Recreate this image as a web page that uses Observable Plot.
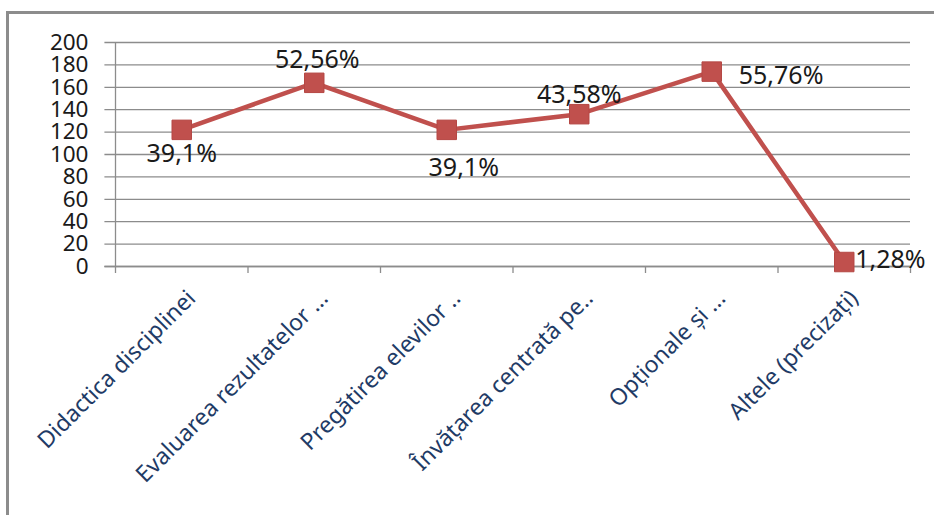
<!DOCTYPE html>
<html>
<head>
<meta charset="utf-8">
<script src="https://cdn.jsdelivr.net/npm/d3@7"></script>
<script src="https://cdn.jsdelivr.net/npm/@observablehq/plot@0.6"></script>
<style>
  html, body { margin: 0; padding: 0; background: #fff; overflow: hidden; }
  #wrap { position: relative; width: 934px; height: 515px; overflow: hidden; }
  #frame { position: absolute; left: 6px; top: 11px; width: 1000px; height: 1000px;
           border-left: 3px solid #8c8c8c; border-top: 3px solid #8c8c8c; box-sizing: border-box; }
  #chart { position: absolute; left: 0; top: 0; }
</style>
</head>
<body>
<div id="wrap"><div id="frame"></div><div id="chart"></div></div>
<script>
const categories = [
  "Didactica disciplinei",
  "Evaluarea rezultatelor ...",
  "Pregătirea elevilor ..",
  "Învățarea centrată pe..",
  "Opționale și ...",
  "Altele (precizați)"
];
const counts = [122, 164, 122, 136, 174, 4];
const percentLabels = ["39,1%", "52,56%", "39,1%", "43,58%", "55,76%", "1,28%"];
const yTicks = [0, 20, 40, 60, 80, 100, 120, 140, 160, 180, 200];

// label placement (style only): dx, dy, anchor per point
const labelNudge = [
  {dx: 0, dy: 24, anchor: "middle"},
  {dx: 3, dy: -23, anchor: "middle"},
  {dx: 17, dy: 38, anchor: "middle"},
  {dx: 0, dy: -19, anchor: "middle"},
  {dx: 27, dy: 4, anchor: "start"},
  {dx: 11, dy: -2, anchor: "start"}
];

const data = categories.map((c, i) => ({i, x: i + 0.5, c, v: counts[i], lab: percentLabels[i]}));

const red = "#C0504D";
const font = "'Noto Sans', 'Open Sans', sans-serif";

const marks = [
  Plot.gridY(yTicks, {stroke: "#8c8c8c", strokeOpacity: 1, strokeWidth: 1.3, x1: -0.08}),
  Plot.axisY(yTicks, {tickSize: 0, tickPadding: 27, fontSize: 22.5, fill: "#1a1a1a", fontFamily: font, label: null}),
  Plot.ruleX([0], {stroke: "#8c8c8c", strokeWidth: 1.3}),
  Plot.ruleY([0], {stroke: "#8c8c8c", strokeWidth: 1.3, x1: -0.08, x2: 6}),
  Plot.axisX([0, 1, 2, 3, 4, 5, 6], {tickSize: 7, stroke: "#8c8c8c", strokeWidth: 1.3, tickFormat: () => "", label: null}),
  Plot.axisX(data.map(d => d.x), {
    tickSize: 0, tickRotate: -45, tickPadding: 0, dx: 10, dy: 28,
    tickFormat: x => categories[Math.round(x - 0.5)],
    fontSize: 23, fill: "#1F3B66", fontFamily: font, label: null
  }),
  Plot.line(data, {x: "x", y: "v", stroke: red, strokeWidth: 4.5}),
  Plot.dot(data, {x: "x", y: "v", symbol: "square", r: 11, fill: red, stroke: "#b54744", strokeWidth: 1})
];
labelNudge.forEach((n, k) => {
  marks.push(Plot.text(data.filter(d => d.i === k), {
    x: "x", y: "v", text: "lab", dx: n.dx, dy: n.dy, textAnchor: n.anchor,
    fontSize: 25, fill: "#1a1a1a", fontFamily: font
  }));
});

const chart = Plot.plot({
  width: 934,
  height: 515,
  marginTop: 42,
  marginBottom: 249,
  marginLeft: 115,
  marginRight: 24,
  style: {fontFamily: font, background: "transparent", overflow: "visible"},
  x: {type: "linear", domain: [0, 6], axis: null},
  y: {domain: [0, 200], axis: null},
  marks
});
document.getElementById("chart").appendChild(chart);
</script>
</body>
</html>
